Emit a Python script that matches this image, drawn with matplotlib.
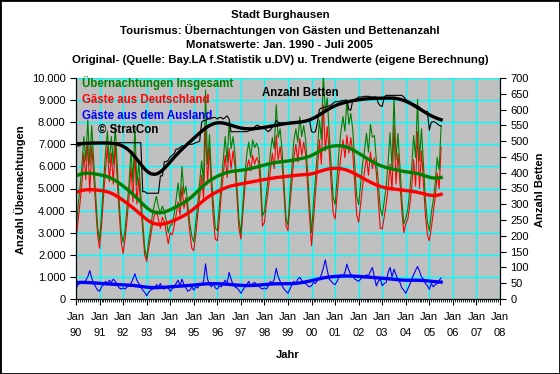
"""
Stadt Burghausen - Tourismus: Übernachtungen und Bettenanzahl
Monatswerte Jan. 1990 - Juli 2005 mit Trend (Gauss-Glättung).
"""

import numpy as np
import matplotlib.pyplot as plt
from matplotlib.ticker import FuncFormatter, MultipleLocator

plt.rcParams['font.family'] = ['Liberation Sans', 'DejaVu Sans']

START_YEAR = 1990

# Übernachtungen, Gäste aus Deutschland (monatlich, Jan 1990 - Jul 2005)
gaeste_de = [
    2700, 3500, 4300, 5200, 6600, 5400, 7100, 4800, 6900, 5600, 4200, 2900,  # 1990
    2300, 3300, 4600, 5800, 6900, 5300, 6600, 5200, 7000, 5400, 3900, 2600,  # 1991
    2060, 2700, 3600, 4600, 6000, 4400, 6650, 4300, 5500, 4200, 3100, 2000,  # 1992
    1700, 2300, 2800, 3400, 3800, 4000, 3600, 3200, 3700, 3500, 3000, 2500,  # 1993
    3000, 2900, 3300, 3800, 4400, 3800, 5100, 4100, 4600, 3900, 3000, 2300,  # 1994
    2180, 2900, 3800, 4600, 5600, 4500, 7860, 5200, 6800, 5000, 3600, 2700,  # 1995
    2640, 3600, 4700, 5600, 6500, 5500, 6800, 5900, 6700, 6000, 4600, 3200,  # 1996
    2710, 3900, 5000, 5900, 6300, 5800, 6500, 6100, 6400, 6200, 5100, 3300,  # 1997
    3470, 4300, 5000, 5800, 6600, 5900, 7400, 6300, 6900, 6100, 4700, 3300,  # 1998
    3090, 4300, 5300, 6400, 7000, 6200, 7260, 6500, 7100, 6500, 5100, 3700,  # 1999
    2410, 3600, 4800, 5900, 7200, 6100, 8770, 6700, 7800, 6600, 5200, 3900,  # 2000
    3620, 4700, 5700, 6500, 7200, 6400, 7400, 6600, 7300, 6600, 5200, 3800,  # 2001
    3470, 4300, 5100, 5800, 6400, 5600, 6650, 5900, 6400, 5700, 4500, 3200,  # 2002
    3170, 3700, 4300, 5000, 6100, 4900, 7860, 5200, 6600, 5300, 4000, 3000,  # 2003
    3400, 3600, 4200, 5000, 6300, 5100, 7560, 5000, 6700, 5200, 3800, 2900,  # 2004
    2640, 3200, 3900, 4600, 5700, 5000, 6880,                                # 2005
]

# Übernachtungen, Gäste aus dem Ausland
gaeste_ausland = [
    450, 650, 700, 800, 750, 850, 1000, 1290, 950, 700, 550, 400,      # 1990
    350, 550, 650, 800, 700, 850, 750, 900, 800, 650, 500, 450,        # 1991
    500, 450, 550, 600, 700, 900, 1140, 850, 700, 550, 400, 300,       # 1992
    150, 300, 400, 450, 500, 650, 550, 700, 500, 450, 550, 500,        # 1993
    350, 450, 550, 700, 850, 600, 900, 650, 500, 350, 400, 550,        # 1994
    400, 550, 500, 700, 650, 800, 1590, 900, 650, 550, 700, 500,       # 1995
    450, 600, 550, 700, 850, 700, 1200, 900, 650, 550, 500, 400,       # 1996
    260, 400, 550, 650, 800, 600, 700, 750, 650, 600, 500, 450,        # 1997
    500, 450, 600, 800, 700, 900, 1390, 1000, 800, 600, 450, 350,      # 1998
    260, 450, 650, 800, 700, 900, 985, 850, 750, 700, 600, 550,        # 1999
    600, 750, 700, 850, 900, 1100, 1400, 1770, 1300, 900, 800, 700,    # 2000
    650, 800, 1000, 1100, 1050, 1200, 1580, 1300, 1100, 1050, 900, 850,  # 2001
    800, 900, 1000, 950, 1100, 1050, 1250, 1425, 1000, 590, 800, 900,  # 2002
    600, 700, 750, 1200, 1425, 1000, 1350, 1100, 900, 750, 500, 400,   # 2003
    260, 450, 650, 900, 1100, 1300, 1470, 1250, 1000, 900, 700, 600,   # 2004
    440, 700, 550, 650, 700, 850, 950,                                 # 2005
]

# Anzahl Betten (rechte Achse)
betten = [
    485, 485, 485, 495, 495, 495, 495, 495, 495, 495, 495, 495,  # 1990
    495, 495, 495, 495, 490, 495, 495, 495, 495, 495, 495, 495,  # 1991
    495, 495, 495, 495, 495, 495, 495, 495, 495, 495, 340, 340,  # 1992
    335, 335, 335, 335, 335, 335, 335, 390, 390, 435, 435, 440,  # 1993
    450, 455, 460, 475, 475, 480, 485, 485, 485, 490, 490, 490,  # 1994
    492, 495, 497, 500, 560, 565, 565, 570, 570, 572, 575, 575,  # 1995
    570, 575, 575, 570, 575, 580, 570, 530, 530, 530, 530, 530,  # 1996
    530, 530, 530, 530, 532, 535, 535, 545, 550, 550, 540, 545,  # 1997
    540, 535, 530, 535, 545, 550, 565, 560, 558, 558, 558, 558,  # 1998
    558, 558, 560, 560, 560, 560, 560, 562, 562, 562, 565, 565,  # 1999
    530, 528, 530, 560, 600, 605, 605, 608, 610, 612, 615, 620,  # 2000
    625, 625, 625, 628, 628, 630, 630, 600, 598, 630, 632, 635,  # 2001
    640, 640, 640, 642, 642, 642, 640, 640, 640, 640, 620, 612,  # 2002
    610, 640, 645, 645, 645, 645, 645, 645, 645, 645, 645, 640,  # 2003
    632, 628, 625, 622, 618, 615, 612, 608, 600, 595, 590, 595,  # 2004
    535, 560, 562, 560, 555, 550, 548,                           # 2005
]

year_labels = ["90", "91", "92", "93", "94", "95", "96", "97", "98",
               "99", "00", "01", "02", "03", "04", "05", "06", "07", "08"]

titles = [
    "Stadt Burghausen",
    "Tourismus: Übernachtungen von Gästen und Bettenanzahl",
    "Monatswerte: Jan. 1990 - Juli 2005",
    "Original- (Quelle: Bay.LA f.Statistik u.DV) u. Trendwerte (eigene Berechnung)",
]


def trend(values, sigma=6.5):
    # Gauss-gewichteter gleitender Mittelwert, an den Rändern normiert
    v = np.asarray(values, float)
    idx = np.arange(len(v))
    out = np.empty(len(v))
    for i in range(len(v)):
        w = np.exp(-0.5 * ((idx - i) / sigma) ** 2)
        out[i] = (w * v).sum() / w.sum()
    return out


de = np.array(gaeste_de, float)
aus = np.array(gaeste_ausland, float)
gesamt = de + aus
bet = np.array(betten, float)
x = START_YEAR + np.arange(len(de)) / 12.0

GREEN, RED, BLUE = "#008000", "#FF0000", "#0000FF"

fig = plt.figure(figsize=(5.6, 3.74), dpi=100)
ax = fig.add_axes([76 / 560, 1 - 299 / 374, 424 / 560, 221 / 374])
ax.set_facecolor("#C0C0C0")

# Originalwerte (dünn)
ax.plot(x, de, color=RED, lw=0.8, zorder=3)
ax.plot(x, gesamt, color=GREEN, lw=0.8, zorder=3)
ax.plot(x, aus, color=BLUE, lw=0.8, zorder=3)
# Trends (dick)
ax.plot(x, trend(gesamt), color=GREEN, lw=2.4, zorder=4)
ax.plot(x, trend(de), color=RED, lw=2.4, zorder=4)
ax.plot(x, trend(aus), color=BLUE, lw=2.4, zorder=4)

ax.set_xlim(1990, 2008)
ax.set_ylim(0, 10000)
ax.set_xticks(np.arange(1990, 2009))
ax.set_xticklabels(["Jan\n" + y for y in year_labels], linespacing=1.75)
ax.xaxis.set_minor_locator(MultipleLocator(1 / 12))
ax.yaxis.set_major_locator(MultipleLocator(1000))
ax.yaxis.set_major_formatter(FuncFormatter(lambda v, p: f"{int(v):,}".replace(",", ".")))
ax.grid(True, color="#00FFFF", lw=1.0, zorder=1)
ax.set_axisbelow(True)
ax.tick_params(axis="both", labelsize=8, direction="out", length=4, width=0.8)
ax.tick_params(axis="x", pad=5)
ax.tick_params(axis="x", which="minor", length=2, width=0.6)
ax.spines["top"].set_visible(False)

ax2 = ax.twinx()
ax2.plot(x, bet, color="black", lw=0.8, zorder=3)
ax2.plot(x, trend(bet), color="black", lw=2.4, zorder=4)
ax2.set_ylim(0, 700)
ax2.yaxis.set_major_locator(MultipleLocator(50))
ax2.tick_params(axis="y", labelsize=8, direction="out", length=4, width=0.8)
ax2.spines["top"].set_visible(False)

# Beschriftungen im Diagramm
tk = dict(transform=ax.transAxes, fontsize=8.3, fontweight="bold", va="center", zorder=6)
ax.text(0.014, 0.977, "Übernachtungen Insgesamt", color=GREEN, **tk)
ax.text(0.014, 0.900, "Gäste aus Deutschland", color=RED, **tk)
ax.text(0.014, 0.828, "Gäste aus dem Ausland", color=BLUE, **tk)
ax.text(0.052, 0.765, "© StratCon", color="black", **tk)
ax.text(0.439, 0.932, "Anzahl Betten", color="black", **tk)

for i, t in enumerate(titles):
    fig.text(0.5, 1 - (15 + 15 * i) / 374, t, ha="center", va="center",
             fontsize=8.2, fontweight="bold")

fig.text(288 / 560, 1 - 355 / 374, "Jahr", ha="center", va="center",
         fontsize=8, fontweight="bold")
fig.text(20 / 560, 1 - 190 / 374, "Anzahl Übernachtungen", rotation=90,
         ha="center", va="center", fontsize=8, fontweight="bold")
fig.text(540 / 560, 1 - 190 / 374, "Anzahl Betten", rotation=90,
         ha="center", va="center", fontsize=8, fontweight="bold")

fig.add_artist(plt.Rectangle((0, 0), 1, 1, transform=fig.transFigure,
                             fill=False, ec="black", lw=2))

fig.savefig("out.png", dpi=100)
